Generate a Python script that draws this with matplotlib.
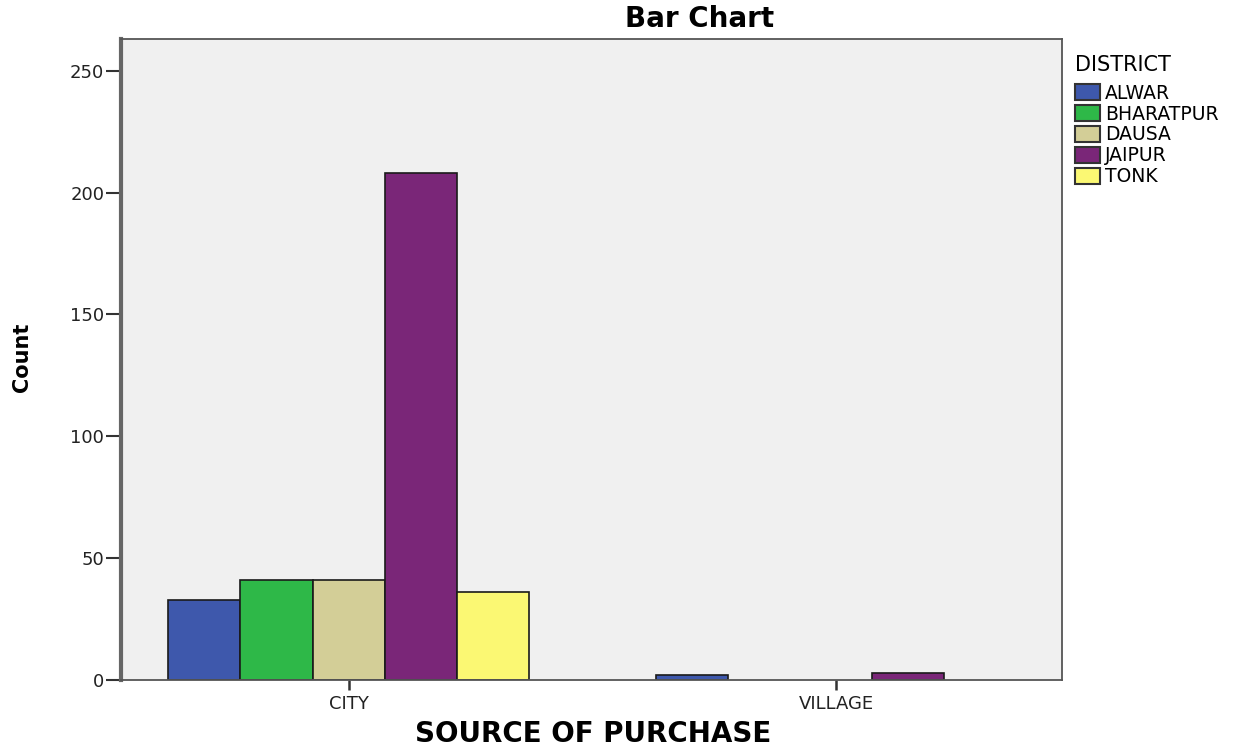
import numpy as np
import matplotlib.pyplot as plt

plt.rcParams['font.family'] = ['DejaVu Sans']

sources = ['CITY', 'VILLAGE']
districts = ['ALWAR', 'BHARATPUR', 'DAUSA', 'JAIPUR', 'TONK']
counts = {
    'ALWAR': [33, 2],
    'BHARATPUR': [41, 0],
    'DAUSA': [41, 0],
    'JAIPUR': [208, 3],
    'TONK': [36, 0],
}
colors = ['#3e58ac', '#2eb848', '#d3ce97', '#7a2678', '#fbf873']

W, H = 1257, 751
fig = plt.figure(figsize=(W / 100, H / 100), dpi=100)
ax = fig.add_axes([121 / W, 1 - 680 / H, 941 / W, 641 / H])
ax.set_facecolor('#f0f0f0')

x = np.arange(len(sources))
w = 0.148
for i, (d, c) in enumerate(zip(districts, colors)):
    vals = np.array(counts[d])
    off = (i - 2) * w
    # zero counts get no bar
    mask = vals > 0
    ax.bar(x[mask] + off, vals[mask], width=w, color=c, edgecolor='#1a1a1a',
           linewidth=1.2, label=d)

ax.set_xlim(-0.467, 1.463)
ax.set_ylim(0, 263)
ax.set_yticks([0, 50, 100, 150, 200, 250])
ax.set_xticks(x)
ax.set_xticklabels(sources)
ax.tick_params(axis='y', labelsize=13, length=11, width=1.5, pad=1,
               color='#333333', labelcolor='#222222')
ax.tick_params(axis='x', labelsize=13, length=7, width=1.8, pad=4,
               color='#333333', labelcolor='#222222')
for s in ['top', 'right', 'bottom']:
    ax.spines[s].set_color('#555555')
    ax.spines[s].set_linewidth(1.3)
ax.spines['left'].set_color('#666666')
ax.spines['left'].set_linewidth(3)

fig.text(700 / W, 1 - 27 / H, 'Bar Chart', ha='center', va='baseline',
         fontsize=20, fontweight='bold')
fig.text(593 / W, 1 - 742 / H, 'SOURCE OF PURCHASE', ha='center', va='baseline',
         fontsize=20, fontweight='bold')
fig.text(22 / W, 1 - 357 / H, 'Count', ha='center', va='center', rotation=90,
         fontsize=15, fontweight='bold')

leg = ax.legend(title='DISTRICT', loc='upper left', bbox_to_anchor=(1.0, 0.996),
                frameon=False, fontsize=13.5, title_fontsize=15,
                handlelength=1.3, handleheight=0.9, handletextpad=0.3,
                labelspacing=0.1, borderaxespad=0.3)
leg._legend_box.align = 'left'
leg._legend_box.sep = 6.5
for p in leg.get_patches():
    p.set_edgecolor('#333333')
    p.set_linewidth(1.5)

fig.savefig('out.png', dpi=100)
